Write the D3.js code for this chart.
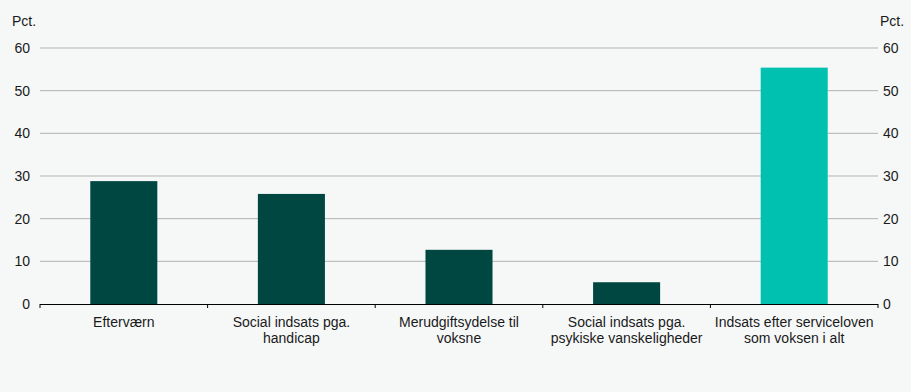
<!DOCTYPE html>
<html><head><meta charset="utf-8">
<script src="https://cdn.jsdelivr.net/npm/d3@7"></script>
<style>
html,body{margin:0;padding:0;background:#f6f8f8;}
text{font-family:"Liberation Sans",Arial,Helvetica,sans-serif;fill:#1a1a1a;}
</style></head>
<body><svg id="c" width="911" height="392"></svg>
<script>
const categories = [["Efterværn"],["Social indsats pga.","handicap"],["Merudgiftsydelse til","voksne"],["Social indsats pga.","psykiske vanskeligheder"],["Indsats efter serviceloven","som voksen i alt"]];
const values = [28.8, 25.8, 12.7, 5.1, 55.4];
const highlight = [false,false,false,false,true];
const yTicks = [0,10,20,30,40,50,60];
const unitLabel = "Pct.";

(function(){
const svg = d3.select("#c");
svg.append("rect").attr("width",911).attr("height",392).attr("fill","#f6f8f8");
const mL=40,mR=878,mT=48,mB=304;
const fs = 14;
const x = d3.scaleBand().domain(d3.range(values.length)).range([mL,mR]).paddingInner(0.6).paddingOuter(0.3);
const xb = d3.scaleBand().domain(d3.range(values.length)).range([mL,mR]);
const y = d3.scaleLinear().domain([0,60]).range([mB,mT]);

svg.append("g").selectAll("line").data(yTicks.filter(d=>d>0)).join("line")
  .attr("x1",mL).attr("x2",mR).attr("y1",d=>y(d)).attr("y2",d=>y(d))
  .attr("stroke","#b3b3b3").attr("stroke-width",1);

svg.append("g").selectAll("rect").data(values).join("rect")
  .attr("x",(d,i)=>x(i)).attr("width",x.bandwidth())
  .attr("y",d=>y(d)).attr("height",d=>mB-y(d))
  .attr("fill",(d,i)=>highlight[i]?"#00c1b0":"#004742");

svg.append("line").attr("x1",mL).attr("x2",mR).attr("y1",mB+0.5).attr("y2",mB+0.5).attr("stroke","#000").attr("stroke-width",1);
const bounds = d3.range(values.length+1).map(i=> i<values.length? xb(i): mR);
svg.append("g").selectAll("line").data(bounds).join("line")
  .attr("x1",d=>d).attr("x2",d=>d).attr("y1",mB).attr("y2",mB+4).attr("stroke","#000");

svg.append("g").selectAll("text").data(yTicks).join("text")
  .attr("x",30).attr("y",d=>y(d)+5).attr("text-anchor","end").attr("font-size",fs).text(d=>d);
svg.append("g").selectAll("text").data(yTicks).join("text")
  .attr("x",883).attr("y",d=>y(d)+5).attr("text-anchor","start").attr("font-size",fs).text(d=>d);
svg.append("text").attr("x",12).attr("y",26).attr("font-size",fs).text(unitLabel);
svg.append("text").attr("x",880).attr("y",26).attr("font-size",fs).text(unitLabel);

const cl = svg.append("g").selectAll("text").data(categories).join("text")
  .attr("text-anchor","middle").attr("font-size",fs)
  .attr("transform",(d,i)=>`translate(${xb(i)+xb.bandwidth()/2},${mB+23})`);
cl.selectAll("tspan").data(d=>d).join("tspan").attr("x",0).attr("dy",(d,j)=>j?16:0).text(d=>d);
})();
</script></body></html>
